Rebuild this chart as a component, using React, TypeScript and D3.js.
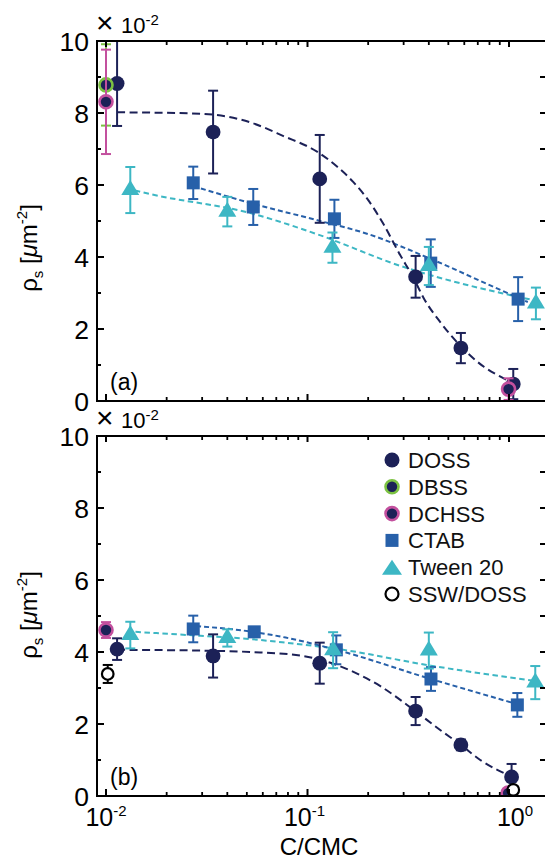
import React from "react";
import * as d3 from "d3";

const NAVY = "#1c2157";
const BLUE = "#2760a9";
const CYAN = "#3db7c4";
const GREEN = "#7cc242";
const PINK = "#c3509e";
const FONT = "Liberation Sans, Arial, Helvetica, sans-serif";

// ---------- Panel (a) data ----------
const dossAX = [0.01135, 0.034, 0.115, 0.344, 0.577, 1.05];
const dossAY = [8.82, 7.47, 6.17, 3.45, 1.47, 0.47];
const dossAE = [1.18, 1.15, 1.22, 0.58, 0.42, 0.42];

const dbssAX = [0.01];
const dbssAY = [8.78];
const dbssAE = [1.13];

const dchssAX = [0.01, 0.995];
const dchssAY = [8.31, 0.33];
const dchssAE = [1.45, 0.3];

const ctabAX = [0.0271, 0.0538, 0.136, 0.409, 1.11];
const ctabAY = [6.06, 5.39, 5.06, 3.83, 2.83];
const ctabAE = [0.45, 0.5, 0.53, 0.66, 0.61];

const tweenAX = [0.0132, 0.04, 0.133, 0.4, 1.36];
const tweenAY = [5.86, 5.26, 4.26, 3.75, 2.71];
const tweenAE = [0.64, 0.41, 0.42, 0.53, 0.44];

// fit curves (a)
const fitDossAX = [0.01135, 0.0294, 0.052, 0.076, 0.112, 0.141, 0.169, 0.199, 0.239, 0.284, 0.337, 0.378, 0.459, 0.557, 0.751, 0.912, 1.02];
const fitDossAY = [8.02, 7.98, 7.74, 7.36, 6.92, 6.5, 6.08, 5.6, 4.9, 4.12, 3.4, 2.85, 2.17, 1.61, 0.95, 0.67, 0.53];
const fitCtabAX = [0.0271, 0.052, 0.112, 0.199, 0.42, 0.91, 1.24];
const fitCtabAY = [5.97, 5.5, 5.02, 4.64, 3.92, 3.08, 2.75];
const fitTweenAX = [0.0139, 0.0165, 0.052, 0.112, 0.29, 0.91, 1.33];
const fitTweenAY = [5.85, 5.75, 5.22, 4.63, 3.75, 3.0, 2.8];

// ---------- Panel (b) data ----------
const dossBX = [0.01135, 0.034, 0.115, 0.344, 0.577, 1.03];
const dossBY = [4.08, 3.89, 3.69, 2.36, 1.42, 0.53];
const dossBE = [0.3, 0.6, 0.57, 0.39, 0.15, 0.36];

const dchssBX = [0.01, 0.99];
const dchssBY = [4.61, 0.08];
const dchssBE = [0.22, 0.1];

const sswBX = [0.0102, 1.05];
const sswBY = [3.39, 0.17];
const sswBE = [0.25, 0.1];

const ctabBX = [0.0271, 0.0544, 0.139, 0.41, 1.1];
const ctabBY = [4.64, 4.56, 4.06, 3.25, 2.53];
const ctabBE = [0.37, 0.1, 0.4, 0.33, 0.33];

const tweenBX = [0.0132, 0.04, 0.134, 0.4, 1.35];
const tweenBY = [4.47, 4.39, 4.05, 4.04, 3.15];
const tweenBE = [0.37, 0.24, 0.5, 0.5, 0.46];

const fitDossBX = [0.01135, 0.0294, 0.052, 0.092, 0.13, 0.184, 0.23, 0.337, 0.459, 0.577, 0.72, 1.02];
const fitDossBY = [4.06, 4.04, 4.0, 3.9, 3.7, 3.35, 3.05, 2.39, 1.82, 1.42, 1.0, 0.55];
const fitCtabBX = [0.028, 0.055, 0.078, 0.135, 0.41, 1.1];
const fitCtabBY = [4.72, 4.55, 4.4, 4.08, 3.25, 2.55];
const fitTweenBX = [0.014, 0.0294, 0.052, 0.08, 0.135, 0.41, 1.33];
const fitTweenBY = [4.56, 4.45, 4.36, 4.25, 4.1, 3.62, 3.2];

// ---------- axes ----------
const yMajor = [0, 2, 4, 6, 8, 10];
const yMinor = [1, 3, 5, 7, 9];
const xMajor = [0.01, 0.1, 1];
const xMajorExp = ["-2", "-1", "0"];
const xMinor = [0.02, 0.03, 0.04, 0.05, 0.06, 0.07, 0.08, 0.09, 0.2, 0.3, 0.4, 0.5, 0.6, 0.7, 0.8, 0.9];

const legendNames = ["DOSS", "DBSS", "DCHSS", "CTAB", "Tween 20", "SSW/DOSS"];
const legendKinds = ["circle", "ringG", "ringP", "square", "triangle", "open"];

const X0 = 97;
const X1 = 546;
const PH = 360;

const xScale = d3.scaleLog().domain([0.01, 1]).range([106, 509]);

type Series = { xs: number[]; ys: number[]; es: number[]; kind: string };
type Fit = { xs: number[]; ys: number[]; color: string; dash: string };

function kindStyle(kind: string) {
  switch (kind) {
    case "circle": return { bar: NAVY };
    case "ringG": return { bar: GREEN };
    case "ringP": return { bar: PINK };
    case "square": return { bar: BLUE };
    case "triangle": return { bar: CYAN };
    default: return { bar: "#000" };
  }
}

function Marker({ kind, cx, cy, legend }: { kind: string; cx: number; cy: number; legend?: boolean }) {
  if (kind === "circle") return <circle cx={cx} cy={cy} r={legend ? 7.5 : 7.4} fill={NAVY} />;
  if (kind === "ringG") return <circle cx={cx} cy={cy} r={6.5} fill={NAVY} stroke={GREEN} strokeWidth={2.6} />;
  if (kind === "ringP") return <circle cx={cx} cy={cy} r={6.5} fill={NAVY} stroke={PINK} strokeWidth={2.6} />;
  if (kind === "square") return <rect x={cx - 6.5} y={cy - 6.5} width={13} height={13} fill={BLUE} />;
  if (kind === "triangle") {
    const w = legend ? 20 : 18;
    const h = 15;
    const top = legend ? cy - h / 2 : cy - (2 * h) / 3;
    const base = top + h;
    return <path d={`M${cx},${top}L${cx + w / 2},${base}L${cx - w / 2},${base}Z`} fill={CYAN} />;
  }
  return <circle cx={cx} cy={cy} r={legend ? 6.5 : 5.8} fill="#fff" stroke="#000" strokeWidth={2.2} />;
}

function Panel({ top, series, fits, label, id, xLabels, legend }: { top: number; series: Series[]; fits: Fit[]; label: string; id: string; xLabels: boolean; legend: boolean }) {
  const bottom = top + PH;
  const y = d3.scaleLinear().domain([0, 10]).range([bottom, top]);
  const line = d3.line<[number, number]>().x((d) => xScale(d[0])).y((d) => y(d[1])).curve(d3.curveMonotoneX);
  return (
    <g>
      <defs>
        <clipPath id={id}>
          <rect x={X0} y={top} width={X1 - X0} height={PH} />
        </clipPath>
      </defs>
      <g clipPath={`url(#${id})`}>
        {fits.map((f, i) => (
          <path key={i} d={line(f.xs.map((v, j) => [v, f.ys[j]]) as [number, number][]) || ""} fill="none" stroke={f.color} strokeWidth={2} strokeDasharray={f.dash} />
        ))}
        {series.map((s, i) => {
          const st = kindStyle(s.kind);
          return (
            <g key={i}>
              {s.xs.map((v, j) => {
                const cx = xScale(v);
                const y1 = y(s.ys[j] + s.es[j]);
                const y2 = y(s.ys[j] - s.es[j]);
                return (
                  <g key={j} stroke={st.bar} strokeWidth={2}>
                    <line x1={cx} x2={cx} y1={y1} y2={y2} />
                    <line x1={cx - 5} x2={cx + 5} y1={y1} y2={y1} />
                    <line x1={cx - 5} x2={cx + 5} y1={y2} y2={y2} />
                  </g>
                );
              })}
              {s.xs.map((v, j) => (
                <Marker key={"m" + j} kind={s.kind} cx={xScale(v)} cy={y(s.ys[j])} />
              ))}
            </g>
          );
        })}
      </g>
      {/* frame */}
      <rect x={X0} y={top} width={X1 - X0} height={PH} fill="none" stroke="#000" strokeWidth={2} />
      {/* y ticks */}
      {yMajor.map((v) => (
        <g key={"ym" + v}>
          <line x1={X0} x2={X0 + 7} y1={y(v)} y2={y(v)} stroke="#000" strokeWidth={2} />
          <line x1={X1 - 6} x2={X1} y1={y(v)} y2={y(v)} stroke="#000" strokeWidth={2} />
          <text x={89} y={y(v)} dy="0.36em" textAnchor="end" fontSize={26.5} fontFamily={FONT}>{v}</text>
        </g>
      ))}
      {yMinor.map((v) => (
        <g key={"yn" + v}>
          <line x1={X0} x2={X0 + 4} y1={y(v)} y2={y(v)} stroke="#000" strokeWidth={2} />
          <line x1={X1 - 6} x2={X1} y1={y(v)} y2={y(v)} stroke="#000" strokeWidth={2} />
        </g>
      ))}
      {/* x ticks */}
      {xMajor.map((v) => (
        <g key={"xm" + v}>
          <line x1={xScale(v)} x2={xScale(v)} y1={bottom} y2={bottom - 7} stroke="#000" strokeWidth={2} />
          <line x1={xScale(v)} x2={xScale(v)} y1={top} y2={top + 6} stroke="#000" strokeWidth={2} />
        </g>
      ))}
      {xMinor.map((v) => (
        <g key={"xn" + v}>
          <line x1={xScale(v)} x2={xScale(v)} y1={bottom} y2={bottom - 4} stroke="#000" strokeWidth={1.8} />
          <line x1={xScale(v)} x2={xScale(v)} y1={top} y2={top + 4} stroke="#000" strokeWidth={1.8} />
        </g>
      ))}
      {xLabels &&
        xMajor.map((v, i) => (
          <text key={"xl" + v} x={xScale(v) + (i === 2 ? 6 : i === 1 ? -3 : 0)} y={bottom + 30} textAnchor="middle" fontSize={25} fontFamily={FONT}>
            10<tspan fontSize={15} dy={-10}>{xMajorExp[i]}</tspan>
          </text>
        ))}
      {/* multiplier */}
      <text x={96} y={top - 8} fontSize={30} fontFamily={FONT}>×</text>
      <text x={121} y={top - 8} fontSize={22} fontFamily={FONT}>
        10<tspan fontSize={15} dy={-8}>-2</tspan>
      </text>
      {/* panel label */}
      <text x={110} y={bottom - 11} fontSize={23} fontFamily={FONT}>{label}</text>
      {legend &&
        legendNames.map((n, i) => {
          const ly = 460 + i * 26.8;
          return (
            <g key={n}>
              <Marker kind={legendKinds[i]} cx={392} cy={ly} legend />
              <text x={408} y={ly} dy="0.36em" fontSize={22} fontFamily={FONT} fill="#111">{n}</text>
            </g>
          );
        })}
    </g>
  );
}

function YLabel({ cy }: { cy: number }) {
  return (
    <text transform={`translate(37, ${cy}) rotate(-90)`} textAnchor="middle" fontSize={24} fontFamily={FONT}>
      ρ<tspan fontSize={15} dy={6}>s</tspan>
      <tspan dy={-6}> [</tspan>
      <tspan fontStyle="italic">μ</tspan>m<tspan fontSize={15} dy={-10}>-2</tspan>
      <tspan dy={10}>]</tspan>
    </text>
  );
}

export default function App() {
  const seriesA: Series[] = [
    { xs: ctabAX, ys: ctabAY, es: ctabAE, kind: "square" },
    { xs: tweenAX, ys: tweenAY, es: tweenAE, kind: "triangle" },
    { xs: dossAX, ys: dossAY, es: dossAE, kind: "circle" },
    { xs: dbssAX, ys: dbssAY, es: dbssAE, kind: "ringG" },
    { xs: dchssAX, ys: dchssAY, es: dchssAE, kind: "ringP" },
  ];
  const fitsA: Fit[] = [
    { xs: fitTweenAX, ys: fitTweenAY, color: CYAN, dash: "5.5,3.5" },
    { xs: fitCtabAX, ys: fitCtabAY, color: BLUE, dash: "5,3" },
    { xs: fitDossAX, ys: fitDossAY, color: NAVY, dash: "8,4.5" },
  ];
  const seriesB: Series[] = [
    { xs: ctabBX, ys: ctabBY, es: ctabBE, kind: "square" },
    { xs: tweenBX, ys: tweenBY, es: tweenBE, kind: "triangle" },
    { xs: dchssBX, ys: dchssBY, es: dchssBE, kind: "ringP" },
    { xs: dossBX, ys: dossBY, es: dossBE, kind: "circle" },
    { xs: sswBX, ys: sswBY, es: sswBE, kind: "open" },
  ];
  const fitsB: Fit[] = [
    { xs: fitTweenBX, ys: fitTweenBY, color: CYAN, dash: "5.5,3.5" },
    { xs: fitCtabBX, ys: fitCtabBY, color: BLUE, dash: "5,3" },
    { xs: fitDossBX, ys: fitDossBY, color: NAVY, dash: "8,4.5" },
  ];
  return (
    <svg width={545} height={861} style={{ position: "absolute", left: 0, top: 0, background: "#fff" }}>
      <rect x={0} y={0} width={545} height={861} fill="#fff" />
      <Panel top={41} series={seriesA} fits={fitsA} label="(a)" id="clipA" xLabels={false} legend={false} />
      <Panel top={436} series={seriesB} fits={fitsB} label="(b)" id="clipB" xLabels={true} legend={true} />
      <YLabel cy={248} />
      <YLabel cy={615} />
      <text x={319} y={855} textAnchor="middle" fontSize={24} fontFamily={FONT}>C/CMC</text>
    </svg>
  );
}
